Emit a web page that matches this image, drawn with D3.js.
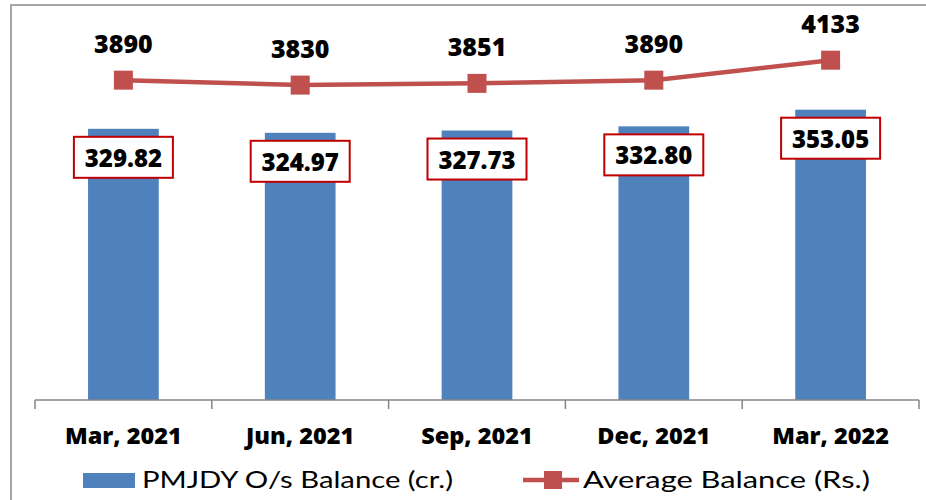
<!DOCTYPE html>
<html>
<head>
<meta charset="utf-8">
<script src="https://cdn.jsdelivr.net/npm/d3@7"></script>
<style>
  html, body { margin: 0; padding: 0; background: #fff; }
  svg { display: block; }
</style>
</head>
<body>
<svg id="chart" width="926" height="500"></svg>
<script>
// Quarter-end categories
const categories = ["Mar, 2021", "Jun, 2021", "Sep, 2021", "Dec, 2021", "Mar, 2022"];
// PMJDY outstanding balance (Rs. crore)
const balanceValues = [329.82, 324.97, 327.73, 332.80, 353.05];
const balanceLabels = ["329.82", "324.97", "327.73", "332.80", "353.05"];
// Average balance per account (Rs.)
const averageValues = [3890, 3830, 3851, 3890, 4133];
const seriesNames = ["PMJDY O/s Balance (cr.)", "Average Balance (Rs.)"];

const svg = d3.select("#chart");
const W = 926, H = 500;
const plot = { left: 35, right: 919, top: 30, bottom: 400 };

const barColor = "#4F81BD";
const lineColor = "#C0504D";
const boxColor = "#C00000";
const boldFont = "'Open Sans', 'DejaVu Sans', sans-serif";
const lightFont = "Lato, 'Open Sans', sans-serif";

// Frame around the chart area
svg.append("rect")
  .attr("x", 11).attr("y", 5)
  .attr("width", W + 20).attr("height", H + 20)
  .attr("fill", "#fff")
  .attr("stroke", "#A6A6A6").attr("stroke-width", 2);

const x = d3.scaleBand()
  .domain(categories)
  .range([plot.left, plot.right])
  .paddingInner(0).paddingOuter(0);

const yBar = d3.scaleLinear().domain([0, 450]).range([plot.bottom, plot.top]);
const yLine = d3.scaleLinear().domain([0, 4500]).range([plot.bottom, plot.top]);

const barW = x.bandwidth() * 0.4;

// Bars
svg.append("g").selectAll("rect")
  .data(balanceValues)
  .join("rect")
  .attr("x", (d, i) => x(categories[i]) + (x.bandwidth() - barW) / 2)
  .attr("y", d => yBar(d))
  .attr("width", barW)
  .attr("height", d => yBar(0) - yBar(d))
  .attr("fill", barColor);

// Category axis with tick marks between categories
const axisG = svg.append("g");
axisG.append("line")
  .attr("x1", plot.left).attr("x2", plot.right)
  .attr("y1", plot.bottom).attr("y2", plot.bottom)
  .attr("stroke", "#868686").attr("stroke-width", 1.5);
const boundaries = categories.map(c => x(c)).concat([x(categories[categories.length - 1]) + x.bandwidth()]);
axisG.selectAll("line.tick")
  .data(boundaries)
  .join("line")
  .attr("class", "tick")
  .attr("x1", d => d).attr("x2", d => d)
  .attr("y1", plot.bottom).attr("y2", plot.bottom + 9)
  .attr("stroke", "#868686").attr("stroke-width", 1.5);
axisG.selectAll("text")
  .data(categories)
  .join("text")
  .attr("x", d => x(d) + x.bandwidth() / 2)
  .attr("y", 444)
  .attr("text-anchor", "middle")
  .attr("font-family", boldFont)
  .attr("font-weight", 800)
  .attr("font-size", 23.5)
  .attr("fill", "#000")
  .text(d => d);

// Bar value boxes
const boxW = 99, boxH = 41;
const boxes = svg.append("g").selectAll("g")
  .data(balanceValues)
  .join("g")
  .attr("transform", (d, i) => `translate(${x(categories[i]) + x.bandwidth() / 2},${yBar(d) + 8})`);
boxes.append("rect")
  .attr("x", -boxW / 2).attr("y", 0)
  .attr("width", boxW).attr("height", boxH)
  .attr("fill", "#fff")
  .attr("stroke", boxColor).attr("stroke-width", 2);
boxes.append("text")
  .attr("x", 0).attr("y", 30)
  .attr("text-anchor", "middle")
  .attr("font-family", boldFont)
  .attr("font-weight", 800)
  .attr("font-size", 24)
  .attr("fill", "#000")
  .text((d, i) => balanceLabels[i]);

// Average balance line
const cx = (i) => x(categories[i]) + x.bandwidth() / 2;
const line = d3.line().x((d, i) => cx(i)).y(d => yLine(d));
svg.append("path")
  .datum(averageValues)
  .attr("d", line)
  .attr("fill", "none")
  .attr("stroke", lineColor)
  .attr("stroke-width", 4.5);
const mk = 19;
svg.append("g").selectAll("rect")
  .data(averageValues)
  .join("rect")
  .attr("x", (d, i) => cx(i) - mk / 2)
  .attr("y", d => yLine(d) - mk / 2)
  .attr("width", mk).attr("height", mk)
  .attr("fill", lineColor);
svg.append("g").selectAll("text")
  .data(averageValues)
  .join("text")
  .attr("x", (d, i) => cx(i))
  .attr("y", d => yLine(d) - 27)
  .attr("text-anchor", "middle")
  .attr("font-family", boldFont)
  .attr("font-weight", 800)
  .attr("font-size", 25)
  .attr("fill", "#000")
  .text(d => d);

// Legend
const legend = svg.append("g");
legend.append("rect")
  .attr("x", 83).attr("y", 473).attr("width", 52).attr("height", 15)
  .attr("fill", barColor);
legend.append("text")
  .attr("x", 142).attr("y", 488)
  .attr("font-family", lightFont)
  .attr("font-size", 23)
  .attr("textLength", 311)
  .attr("lengthAdjust", "spacingAndGlyphs")
  .attr("fill", "#000")
  .text(seriesNames[0]);
legend.append("line")
  .attr("x1", 523).attr("x2", 579).attr("y1", 480).attr("y2", 480)
  .attr("stroke", lineColor).attr("stroke-width", 4.5);
legend.append("rect")
  .attr("x", 544).attr("y", 471).attr("width", 18).attr("height", 18)
  .attr("fill", lineColor);
legend.append("text")
  .attr("x", 583).attr("y", 488)
  .attr("font-family", lightFont)
  .attr("font-size", 23)
  .attr("textLength", 287)
  .attr("lengthAdjust", "spacingAndGlyphs")
  .attr("fill", "#000")
  .text(seriesNames[1]);
</script>
</body>
</html>
